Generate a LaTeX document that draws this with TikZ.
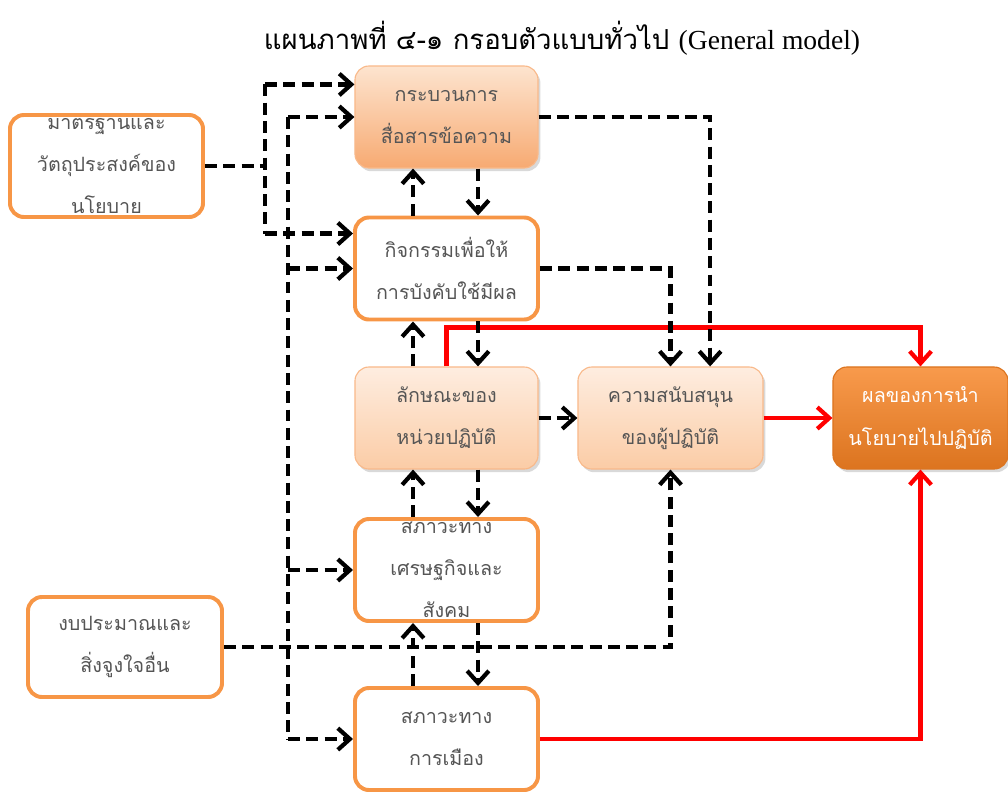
\documentclass[tikz,border=0pt]{standalone}
\usepackage{fontspec}
\newfontfamily\thaifont[Script=Thai]{Loma}
\newfontfamily\latinserif{Liberation Serif}
\usepackage{tikz}
\usetikzlibrary{arrows.meta}
\usetikzlibrary{shadows}
\usetikzlibrary{positioning}
\definecolor{boxorange}{HTML}{F79646}
\definecolor{boxedge}{HTML}{F9B98A}
\definecolor{peachtop}{HTML}{FDE4CF}
\definecolor{peachbot}{HTML}{F7AA72}
\definecolor{paletop}{HTML}{FEEDE0}
\definecolor{palebot}{HTML}{FBCCA6}
\definecolor{deeptop}{HTML}{F89A4C}
\definecolor{deepbot}{HTML}{DC741F}
\definecolor{boxtext}{HTML}{555555}
\tikzset{
    Box/.style = {rectangle, rounded corners=0.35cm, align=center, inner sep=0pt,
        minimum width=4.575cm, minimum height=2.55cm, text=boxtext,
        font=\thaifont\fontsize{14}{30}\selectfont}
}
\tikzset{
    WhiteBox/.style = {Box, draw=boxorange, line width=2.8pt, fill=white},
    PeachBox/.style = {Box, draw=boxedge, line width=0.8pt, top color=peachtop, bottom color=peachbot,
        drop shadow={shadow xshift=0.06cm, shadow yshift=-0.08cm, opacity=0.3}},
    PaleBox/.style = {Box, draw=boxedge, line width=0.8pt, top color=paletop, bottom color=palebot,
        drop shadow={shadow xshift=0.06cm, shadow yshift=-0.08cm, opacity=0.3}},
    DeepBox/.style = {Box, draw=deepbot, line width=0.8pt, top color=deeptop, bottom color=deepbot,
        text=white, drop shadow={shadow xshift=0.06cm, shadow yshift=-0.08cm, opacity=0.3}}
}
\tikzset{
    Line/.style = {draw=black, line width=3pt, dash pattern=on 8.5pt off 4.5pt},
    Edge/.style = {Line, -{Straight Barb[length=3mm, width=5.4mm]}},
    RedEdge/.style = {draw=red, line width=3pt, -{Straight Barb[length=3mm, width=5.4mm]}}
}

\begin{document}
\begin{tikzpicture}[x=0.025cm, y=-0.025cm]
\useasboundingbox (0,0) rectangle (1008,792);

\node[font=\thaifont\fontsize{19.6}{22}\selectfont] at (562,38) (title)
    {แผนภาพที่ ๔-๑ กรอบตัวแบบทั่วไป {\latinserif (General model)}};

\node[WhiteBox, minimum width=4.825cm] at (106.5,166) (std) {มาตรฐานและ\\วัตถุประสงค์ของ\\นโยบาย};
\node[PeachBox] at (446.5,117) (comm) {กระบวนการ\\สื่อสารข้อความ};
\node[WhiteBox] at (446.5,268.5) (enf) {กิจกรรมเพื่อให้\\การบังคับใช้มีผล};
\node[PaleBox] at (446.5,418) (char) {ลักษณะของ\\หน่วยปฏิบัติ};
\node[PaleBox, minimum width=4.625cm] at (670.5,418) (disp) {ความสนับสนุน\\ของผู้ปฏิบัติ};
\node[DeepBox, minimum width=4.375cm] at (920.5,418) (perf) {ผลของการนำ\\นโยบายไปปฏิบัติ};
\node[WhiteBox] at (446.5,570) (econ) {สภาวะทาง\\เศรษฐกิจและ\\สังคม};
\node[WhiteBox, minimum width=4.85cm, minimum height=2.5cm] at (125,647) (res) {งบประมาณและ\\สิ่งจูงใจอื่น};
\node[WhiteBox] at (446.5,739) (pol) {สภาวะทาง\\การเมือง};

\coordinate (tA) at (265,0);
\coordinate (tB) at (288,0);
\coordinate (cL) at (413,0);
\coordinate (cR) at (478,0);
\coordinate (c1) at ([yshift=-0.475cm]comm.north west);
\coordinate (c2) at ([yshift=-0.45cm]enf.north west);

\draw[RedEdge] (char.north) -- ++(0,-39) -| (perf.north);
\draw[RedEdge] (disp.east) -- (perf.west);
\draw[RedEdge] (pol.east) -| (perf.south);

\draw[Line] (std.east) -- (tA |- std.east);
\draw[Line] (tA |- c1) -- (tA |- c2);
\draw[Edge] (tA |- c1) -- (c1);
\draw[Edge] (tA |- c2) -- (c2);
\draw[Line] (tB |- comm.west) -- (tB |- pol.west);
\foreach \n in {comm, enf, econ, pol}
    \draw[Edge] (tB |- \n.west) -- (\n.west);

\draw[Edge] (res.east) -| (disp.south);
\draw[Edge] (enf.east) -| (disp.north);
\draw[Edge] (comm.east) -| ([xshift=0.99cm]disp.north);
\draw[Edge] (char.east) -- (disp.west);
\foreach \a/\b in {comm/enf, enf/char, char/econ, econ/pol} {
    \draw[Edge] (cL |- \b.north) -- (cL |- \a.south);
    \draw[Edge] (cR |- \a.south) -- (cR |- \b.north);
}
\end{tikzpicture}
\end{document}
